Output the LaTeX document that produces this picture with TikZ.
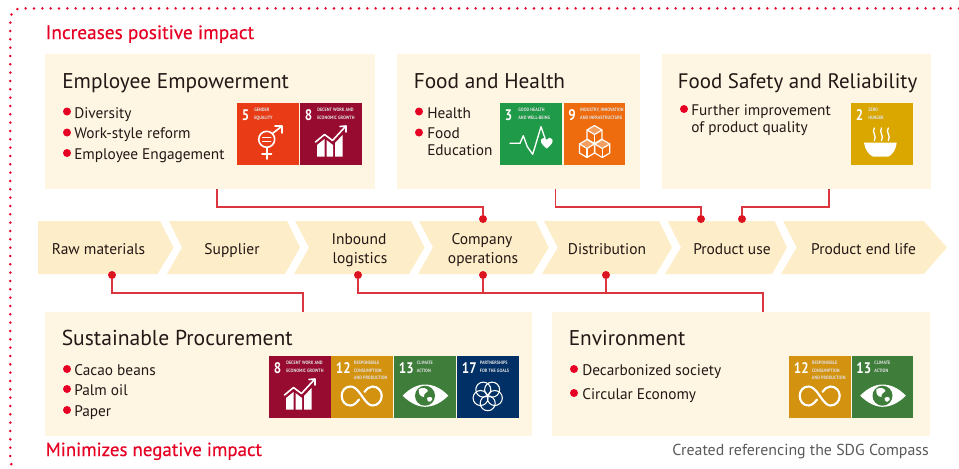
\documentclass[tikz,border=0pt]{standalone}
\usepackage{fontspec}
\setmainfont{PT Sans}
\newfontfamily\headfont[FakeBold=.3]{PT Sans}
\usetikzlibrary{calc}
\definecolor{panelc}{HTML}{FEF6E3}
\definecolor{chevc}{HTML}{FDEDC8}
\definecolor{inkc}{HTML}{231815}
\definecolor{redc}{HTML}{E60023}
\definecolor{linkc}{HTML}{DB3540}
\definecolor{dotc}{HTML}{DB1420}
\definecolor{sdgA}{HTML}{E83B16}
\definecolor{sdgB}{HTML}{970B31}
\definecolor{sdgC}{HTML}{1F9A48}
\definecolor{sdgD}{HTML}{EE6C0E}
\definecolor{sdgE}{HTML}{D9A700}
\definecolor{sdgF}{HTML}{D3920F}
\definecolor{sdgG}{HTML}{3F7E3A}
\definecolor{sdgH}{HTML}{003066}
\newcommand{\fsz}[1]{\fontsize{#1}{#1}\selectfont}
\tikzset{
  panelbox/.style={fill=panelc,inner sep=0pt,anchor=north west},
  paneltitle/.style={anchor=base west,inner sep=0pt,text=inkc,font=\fsz{16}},
  itemtext/.style={anchor=base west,inner sep=0pt,text=inkc,font=\fsz{11.5}},
  chevtext/.style={anchor=base,inner sep=0pt,text=inkc,font=\fsz{11.6}},
  headtext/.style={anchor=base west,inner sep=0pt,text=redc,font=\headfont\fsz{14.5}},
  notetext/.style={anchor=base east,inner sep=0pt,text=black!65,font=\fsz{11.9}},
  bulletdot/.style={circle,fill=redc,inner sep=0pt,minimum size=6pt},
  linkdot/.style={circle,fill=dotc,inner sep=0pt,minimum size=6pt},
  link/.style={draw=linkc,line width=.98pt},
  tilenum/.style={anchor=base west,inner sep=0pt,text=white,font=\bfseries\fsz{11.5},xscale=.85,transform shape},
  tilelab/.style={anchor=north west,inner sep=0pt,text=white!88!black,font=\bfseries\fontsize{3.6}{5.5}\selectfont,align=left,xscale=.88,transform shape},
  iconl/.style={draw=white,line width=1.2pt,line cap=round,line join=round},
}
% panel: name, x1, y1, x2, y2
\newcommand{\panel}[5]{\pgfmathsetmacro{\pw}{(#4-#2)*.75}\pgfmathsetmacro{\ph}{(#5-#3)*.75}
  \node[panelbox,minimum width=\pw pt,minimum height=\ph pt] (#1) at (#2,#3) {};}
% chevron: name, TL, notch, BL, TR, tip, BR
\newcommand{\chev}[7]{\fill[chevc] (#2,221) -- (#5,221) -- (#6,247.5) -- (#7,274) -- (#4,274) -- (#3,247.5) -- cycle;
  \coordinate (#1) at (#3,247.5);}
% bullet item: name, dot x, dot y, text x, baseline y, text
\newcommand{\bul}[6]{\node[bulletdot] (#1-b) at (#2,#3) {};\node[itemtext] (#1) at (#4,#5) {#6};}
% tile: name, x, y, colour, number, label x, label, icon
\newcommand{\tile}[8]{\begin{scope}[shift={(#2,#3)}]
  \fill[#4] (0,0) rectangle (61.5,61.5);
  \node[tilenum] (#1-n) at ({4/.85},17.5) {#5};
  \node[tilelab] (#1-l) at ({#6/.88},5.2) {#7};
  #8
\end{scope}}
\newcommand{\icongender}{\begin{scope}[iconl]
  \draw (29.7,36.3) circle (8);
  \draw (35.5,30.5) -- (44.5,23.5); \draw (38,23) -- (45,23) -- (45,30);
  \draw (29.7,44.5) -- (29.7,56); \draw (25,51) -- (34.5,51);
  \draw[line width=1pt] (25.7,34.5) -- (33.7,34.5); \draw[line width=1pt] (25.7,38.3) -- (33.7,38.3);
\end{scope}}
\newcommand{\icongrowth}{
  \fill[white] (17,53.5) -- (17,42) -- (24.5,36) -- (24.5,53.5) -- cycle;
  \fill[white] (26.5,53.5) -- (26.5,37) -- (33,42) -- (33,53.5) -- cycle;
  \fill[white] (35,53.5) -- (35,40) -- (42.5,32) -- (42.5,53.5) -- cycle;
  \draw[iconl] (15.5,39) -- (24.5,31.5) -- (32.5,37.5) -- (45,24);
  \draw[iconl] (40,23.5) -- (46,23) -- (46,29);}
\newcommand{\iconheart}{
  \draw[iconl,line width=1pt] (10,40.3) -- (20,40.3) -- (23.3,32.7) -- (27.3,43.7) -- (32.7,51.3) -- (41,23.7) -- (45,35.3);
  \fill[white] (46.7,45.5) .. controls (41,41) and (40,38.5) .. (41.5,36) .. controls (43,34) and (45.5,34.5) .. (46.7,36.8)
     .. controls (48,34.5) and (50.5,34) .. (52,36) .. controls (53.5,38.5) and (52.5,41) .. (46.7,45.5) -- cycle;}
\newcommand{\cube}[2]{\begin{scope}[shift={(#1,#2)},iconl,line width=.85pt]
  \fill[white,opacity=.35] (-7.5,-4.5) -- (0,-9) -- (7.5,-4.5) -- (0,0) -- cycle;
  \draw (-7.5,-4.5) -- (0,-9) -- (7.5,-4.5) -- (7.5,4.5) -- (0,9) -- (-7.5,4.5) -- cycle;
  \draw (-7.5,-4.5) -- (0,0) -- (7.5,-4.5); \draw (0,0) -- (0,9);
\end{scope}}
\newcommand{\iconcubes}{\cube{31}{31.5}\cube{23.5}{45.5}\cube{38.8}{45.5}}
\newcommand{\iconbowl}{
  \fill[white] (13,39.7) -- (45.7,39.7) .. controls (45,47) and (41,52) .. (37.3,53.7) -- (22.3,53.7) .. controls (18,52) and (14,47) .. (13,39.7) -- cycle;
  \foreach \sx in {23.3,30.5,37.3}{\draw[iconl,line width=1pt] (\sx,25) .. controls (\sx-3,29) and (\sx+3,33) .. (\sx,37.5);}}
\newcommand{\iconinf}{
  \draw[iconl,line width=1.6pt] (30.7,39.7) .. controls (26,33) and (23,30.5) .. (19.5,30.5) .. controls (14,30.5) and (10.7,35) .. (10.7,39.7)
    .. controls (10.7,45) and (14,49.5) .. (19.5,49.5) .. controls (23,49.5) and (26,46) .. (28,43.5);
  \draw[iconl,line width=1.6pt] (30.7,39.7) .. controls (35,46) and (38,49.5) .. (41.5,49.5) .. controls (47,49.5) and (50.7,45) .. (50.7,39.7)
    .. controls (50.7,35) and (47,30.5) .. (41.5,30.5) .. controls (38,30.5) and (35.5,33) .. (33.5,35.8);}
\newcommand{\iconeye}{
  \fill[white] (8.7,39.7) .. controls (16,32) and (24,28.5) .. (31,28.5) .. controls (39,28.5) and (47,32) .. (54.3,39.7)
     .. controls (47,47) and (39,50.8) .. (31,50.8) .. controls (24,50.8) and (16,47) .. (8.7,39.7) -- cycle;
  \fill[sdgG] (31,39.7) circle (10);
  \fill[white] (25,33) .. controls (29,31) and (33,32) .. (34,35) .. controls (31,38) and (30,37) .. (30,41) .. controls (26,41) and (24,37) .. (25,33) -- cycle;
  \fill[white] (33,42) .. controls (36,40) and (39,41) .. (38,44) .. controls (36,47) and (33,46) .. (33,42) -- cycle;}
\newcommand{\iconrings}{\foreach \ra in {90,162,234,306,18}{\draw[white,line width=.8pt] ($(30.7,39.7)+(\ra:7.5)$) circle (7.5);}}
\begin{document}
\begin{tikzpicture}[x=.75pt,y=-.75pt]
\useasboundingbox (0,0) rectangle (959,468);
\draw[redc,line width=2.1pt,line cap=round,dash pattern=on 0pt off 6.25pt]
  (959,8.4) -- (21,8.4) .. controls (14,8.4) and (10.3,13) .. (10.3,21) -- (10.3,459) .. controls (10.3,463) and (11,465) .. (14,467);
\node[headtext] (head1) at (45.5,39) {Increases positive impact};
\node[headtext] (head2) at (45.5,456) {\fsz{14.2}Minimizes negative impact};
\panel{emp}{45}{54}{375}{189}
\panel{food}{397}{54}{640}{189}
\panel{safe}{662}{54}{931}{189}
\panel{sus}{45}{312}{532}{436}
\panel{env}{552}{312}{930}{436}
\node[paneltitle] (emp-t) at (62,88) {Employee Empowerment};
\node[paneltitle] (food-t) at (413.5,88) {Food and Health};
\node[paneltitle] (safe-t) at (677.5,88) {\fsz{15.7}Food Safety and Reliability};
\node[paneltitle] (sus-t) at (61.5,345) {\fsz{16.2}Sustainable Procurement};
\node[paneltitle] (env-t) at (568.5,345) {Environment};
\bul{i1}{67}{111.5}{74}{118}{Diversity}
\bul{i2}{67}{132.5}{74}{138}{Work-style reform}
\bul{i3}{67}{153}{74}{159}{Employee Engagement}
\bul{i4}{419}{111.5}{427}{118}{Health}
\bul{i5}{419}{132.5}{427}{138}{Food}
\node[itemtext] (i5b) at (427,155) {Education};
\bul{i6}{684}{109}{691}{115}{Further improvement}
\node[itemtext] (i6b) at (691,132) {of product quality};
\bul{i7}{67}{369}{74}{375}{Cacao beans}
\bul{i8}{67}{389}{74}{395}{Palm oil}
\bul{i9}{67}{410}{74}{416}{Paper}
\bul{i10}{574}{369}{582}{375}{Decarbonized society}
\bul{i11}{574}{393}{582}{399}{Circular Economy}
\node[notetext] (note) at (929,455) {Created referencing the SDG Compass};
\tile{t5}{237}{103}{sdgA}{5}{15}{GENDER\\EQUALITY}{\icongender}
\tile{t8}{300}{103}{sdgB}{8}{15}{DECENT WORK AND\\ECONOMIC GROWTH}{\icongrowth}
\tile{t3}{500}{103}{sdgC}{3}{16}{GOOD HEALTH\\AND WELL-BEING}{\iconheart}
\tile{t9}{563.5}{103}{sdgD}{9}{14.5}{INDUSTRY, INNOVATION\\AND INFRASTRUCTURE}{\iconcubes}
\tile{t2}{851}{103}{sdgE}{2}{15}{ZERO\\HUNGER}{\iconbowl}
\tile{b8}{269}{356}{sdgB}{8}{15}{DECENT WORK AND\\ECONOMIC GROWTH}{\icongrowth}
\tile{b12}{331}{356}{sdgF}{12}{20}{RESPONSIBLE\\CONSUMPTION\\AND PRODUCTION}{\iconinf}
\tile{b13}{394}{356}{sdgG}{13}{20}{CLIMATE\\ACTION}{\iconeye}
\tile{b17}{457}{356}{sdgH}{17}{20}{PARTNERSHIPS\\FOR THE GOALS}{\iconrings}
\tile{e12}{789}{356}{sdgF}{12}{20}{RESPONSIBLE\\CONSUMPTION\\AND PRODUCTION}{\iconinf}
\tile{e13}{851.5}{356}{sdgG}{13}{20}{CLIMATE\\ACTION}{\iconeye}
\chev{c1}{38}{38}{38}{160}{173.5}{157.5}
\chev{c2}{169}{182}{167}{287}{300}{285}
\chev{c3}{295}{309}{294}{411}{424.5}{409}
\chev{c4}{419}{433}{418}{535.7}{548.7}{532.7}
\chev{c5}{544}{557.7}{542}{659}{672}{656}
\chev{c6}{667.7}{681}{665}{774.7}{787}{772}
\chev{c7}{783}{796.7}{781}{923.7}{947}{923.7}
\node[chevtext] (l1) at (98.5,254) {Raw materials};
\node[chevtext] (l2) at (232,254) {Supplier};
\node[chevtext] (l3a) at (359,244) {Inbound};
\node[chevtext] (l3b) at (360,263) {logistics};
\node[chevtext] (l4a) at (482,244) {Company};
\node[chevtext] (l4b) at (483,263) {operations};
\node[chevtext] (l5) at (607,254) {Distribution};
\node[chevtext] (l6) at (732,254) {Product use};
\node[chevtext] (l7) at (863.5,254) {Product end life};
\node[linkdot] (d-ops-t) at (483,219) {};
\node[linkdot] (d-use-a) at (701,219) {};
\node[linkdot] (d-use-b) at (742,219) {};
\node[linkdot] (d-raw) at (112,275) {};
\node[linkdot] (d-inb) at (358,275) {};
\node[linkdot] (d-ops-b) at (483,275) {};
\node[linkdot] (d-dis) at (606,275) {};
\coordinate (a-emp) at (217,189);
\coordinate (a-food) at (555.5,189);
\coordinate (a-safe) at (829,189);
\coordinate (a-sus) at (303,312);
\coordinate (a-env) at (763,312);
\draw[link] (a-emp) -- ++(0,18) -| (d-ops-t);
\draw[link] (a-food) -- ++(0,18) -| (d-use-a);
\draw[link] (a-safe) -- ++(0,18) -| (d-use-b);
\draw[link] (d-raw) -- ++(0,18) -| (a-sus);
\draw[link] (d-inb) -- ++(0,18) -| (a-env);
\draw[link] (d-ops-b) -- ++(0,18);
\draw[link] (d-dis) -- ++(0,18);
\end{tikzpicture}
\end{document}
